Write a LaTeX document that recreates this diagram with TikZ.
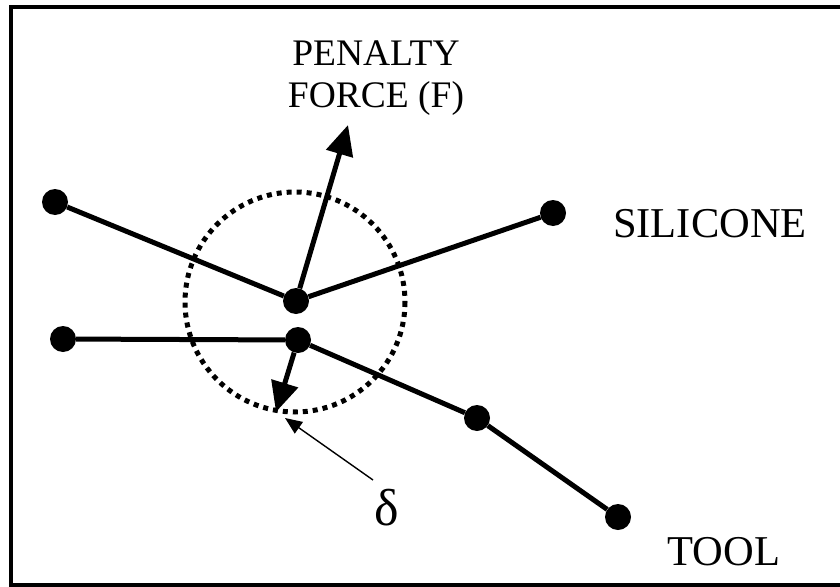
\documentclass[tikz,border=0pt]{standalone}
\usepackage{fontspec}
\setmainfont{Liberation Serif}
\usetikzlibrary{arrows.meta}

\begin{document}
\begin{tikzpicture}[x=1pt,y=-1pt,
 dot/.style={circle,fill=black,inner sep=0pt,minimum size=26pt},
 link/.style={line width=5pt},
 force/.style={line width=5pt,-{Triangle[length=30pt,width=27pt]}},
 pointer/.style={line width=1.4pt,-{Triangle[length=17pt,width=14pt]}},
 zone/.style={line width=5pt,dash pattern=on 5pt off 5pt},
 biglab/.style={font=\fontsize{42.5}{48}\selectfont},
 smalllab/.style={font=\fontsize{37.5}{42}\selectfont,align=center}]
\useasboundingbox (0,0) rectangle (840,586);
\draw[line width=3.5pt] (840,7) -- (11,7) -- (11,585) -- (840,585);
% silicone nodes
\node[dot] (s1) at (55,202) {};
\node[dot] (s2) at (296,301) {};
\node[dot] (s3) at (553,213) {};
% tool nodes
\node[dot] (t1) at (63,339) {};
\node[dot] (t2) at (298,340) {};
\node[dot] (t3) at (477,418) {};
\node[dot] (t4) at (618,517) {};
\draw[zone] (295,302) circle (110);
\draw[link] (s1)--(s2); \draw[link] (s2)--(s3);
\draw[link] (t1)--(t2); \draw[link] (t2)--(t3); \draw[link] (t3)--(t4);
% arrows
\coordinate (ftip) at (348,125);
\coordinate (dtip) at (276,412);
\draw[force] (s2)--(ftip);
\draw[force] (t2)--(dtip);
\coordinate (ptail) at (373,480);
\coordinate (phead) at (285,418);
\draw[pointer] (ptail)--(phead);
% labels
\node[smalllab] (pen) at (376,78) {PENALTY\\FORCE (F)};
\node[biglab,anchor=base] (sil) at (710,237) {SILICONE};
\node[biglab,anchor=base] (tool) at (724,565) {TOOL};
\node[font=\fontsize{52}{56}\selectfont,anchor=base] (delta) at (387,525) {δ};
\end{tikzpicture}
\end{document}
